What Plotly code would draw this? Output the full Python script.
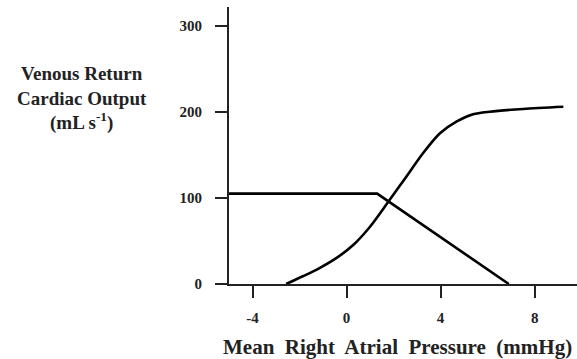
import plotly.graph_objects as go

# Venous return curve
vr_x = [-5.0, 1.3, 6.9]
vr_y = [105, 105, 0]

# Cardiac output curve
co_x = [-2.57, -1.86, -1.15, -0.44, 0.27, 0.98, 1.76, 2.54, 3.25, 3.96, 4.67, 5.38, 6.09, 7.51, 9.22]
co_y = [0, 9, 18.5, 30, 45, 66, 95, 124.8, 152, 175, 188.7, 197.3, 200.3, 203.5, 206]

x_ticks = [-4, 0, 4, 8]
y_ticks = [0, 100, 200, 300]

FONT = "Liberation Serif"

fig = go.Figure()
fig.add_trace(go.Scatter(x=vr_x, y=vr_y, mode="lines",
                         line=dict(color="black", width=2.6), showlegend=False))
fig.add_trace(go.Scatter(x=co_x, y=co_y, mode="lines",
                         line=dict(color="black", width=2.6, shape="spline", smoothing=0.8),
                         showlegend=False))

axis_common = dict(showgrid=False, zeroline=False, showline=True, linecolor="#222",
                   linewidth=2, ticks="outside", ticklen=12, tickwidth=2, tickcolor="#222",
                   tickfont=dict(family=FONT, size=15, color="#222", weight="bold"))

fig.update_xaxes(range=[-5.0, 9.8], tickvals=x_ticks, ticktext=[str(v) for v in x_ticks],
                 ticklabelstandoff=7, **axis_common)
fig.update_yaxes(range=[0, 322], tickvals=y_ticks, ticktext=[str(v) for v in y_ticks],
                 ticklabelstandoff=10, **axis_common)

fig.add_annotation(text="<b>Mean  Right  Atrial  Pressure  (mmHg)</b>",
                   xref="paper", yref="paper", x=0.484, y=-0.226, xanchor="center", yanchor="middle",
                   showarrow=False, font=dict(family=FONT, size=21, color="#222"))
fig.add_annotation(text="<b>Venous Return<br>Cardiac Output<br>(mL s<sup>-1</sup>)</b>",
                   xref="paper", yref="paper", x=-0.421, y=0.671, xanchor="center", yanchor="middle",
                   showarrow=False, align="center",
                   font=dict(family=FONT, size=19, color="#222"))

fig.update_layout(width=577, height=359, margin=dict(l=229, r=0, t=7, b=75),
                  plot_bgcolor="white", paper_bgcolor="white")

fig.write_html("out.html")
